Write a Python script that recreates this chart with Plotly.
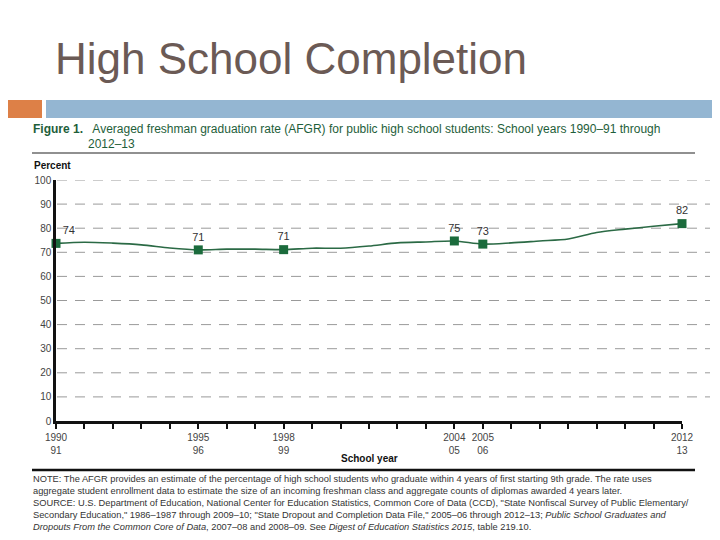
import plotly.graph_objects as go

# ---- data ----
years = list(range(1990, 2013))
afgr = [73.7, 74.2, 73.8, 73.1, 71.8, 71.0, 71.3, 71.3, 71.1, 71.7, 71.7,
        72.6, 73.9, 74.3, 74.7, 73.4, 73.9, 74.7, 75.5, 78.2, 79.6, 80.8, 81.9]
marked_years = [1990, 1995, 1998, 2004, 2005, 2012]
marked_labels = ["74", "71", "71", "75", "73", "82"]
tick_text = {1990: "1990<br>91", 1995: "1995<br>96", 1998: "1998<br>99",
             2004: "2004<br>05", 2005: "2005<br>06", 2012: "2012<br>13"}
y_ticks = list(range(0, 101, 10))

# page has an 8px body margin; work in page pixels and convert
OFF = 8
W, H = 712, 532
def px(x):
    return (x - OFF) / W
def py(y):
    return 1 - (y - OFF) / H

marked_vals = [afgr[years.index(y)] for y in marked_years]
label_pos = ["top right"] + ["top center"] * (len(marked_years) - 1)

fig = go.Figure()
fig.add_trace(go.Scatter(
    x=years, y=afgr, mode="lines",
    line=dict(color="#2b6a45", width=1.6, shape="spline", smoothing=0.8),
    hoverinfo="skip", showlegend=False, cliponaxis=False))
fig.add_trace(go.Scatter(
    x=marked_years, y=marked_vals, mode="markers+text",
    marker=dict(symbol="square", size=9, color="#1b6b3c"),
    text=marked_labels, textposition=label_pos,
    textfont=dict(family="Liberation Sans, Arial", size=11, color="#333333"),
    showlegend=False, cliponaxis=False))

shapes = []
# header bars
shapes.append(dict(type="rect", xref="paper", yref="paper",
                   x0=0, x1=px(42), y0=py(118), y1=py(100),
                   fillcolor="#dd8047", line=dict(width=0), layer="below"))
shapes.append(dict(type="rect", xref="paper", yref="paper",
                   x0=px(46), x1=1, y0=py(118), y1=py(100),
                   fillcolor="#94b6d2", line=dict(width=0), layer="below"))
# rules
shapes.append(dict(type="line", xref="paper", yref="paper",
                   x0=px(32), x1=px(695), y0=py(153), y1=py(153),
                   line=dict(color="#222222", width=1.2)))
shapes.append(dict(type="line", xref="paper", yref="paper",
                   x0=px(32), x1=px(695), y0=py(470), y1=py(470),
                   line=dict(color="#111111", width=2.5)))
# gridlines
for v in y_ticks[1:]:
    shapes.append(dict(type="line", xref="paper", yref="y",
                       x0=px(57), x1=px(710), y0=v, y1=v,
                       line=dict(color="#9a9a9a", width=1, dash="10px,8px"),
                       layer="below"))

annotations = []
annotations.append(dict(text="High School Completion", xref="paper", yref="paper",
                        x=px(53), y=py(58), xanchor="left", yanchor="middle",
                        showarrow=False,
                        font=dict(family="Liberation Sans, Arial", size=44, color="#6b5a55")))
annotations.append(dict(
    text="<b>Figure 1.</b>   Averaged freshman graduation rate (AFGR) for public high school students: School years 1990–91 through",
    xref="paper", yref="paper", x=px(31), y=py(129), xanchor="left", yanchor="middle",
    showarrow=False, font=dict(family="Liberation Sans, Arial", size=12, color="#1e5e3a")))
annotations.append(dict(
    text="2012–13", xref="paper", yref="paper", x=px(86), y=py(143.5),
    xanchor="left", yanchor="middle", showarrow=False,
    font=dict(family="Liberation Sans, Arial", size=12, color="#1e5e3a")))
annotations.append(dict(text="<b>Percent</b>", xref="paper", yref="paper",
                        x=px(32), y=py(165), xanchor="left", yanchor="middle",
                        showarrow=False,
                        font=dict(family="Liberation Sans, Arial", size=10, color="#111111")))
annotations.append(dict(text="<b>School year</b>", xref="paper", yref="paper",
                        x=px(369), y=py(458), xanchor="center", yanchor="middle",
                        showarrow=False,
                        font=dict(family="Liberation Sans, Arial", size=10, color="#111111")))

notes = [
    "NOTE: The AFGR provides an estimate of the percentage of high school students who graduate within 4 years of first starting 9th grade. The rate uses",
    "aggregate student enrollment data to estimate the size of an incoming freshman class and aggregate counts of diplomas awarded 4 years later.",
    "SOURCE: U.S. Department of Education, National Center for Education Statistics, Common Core of Data (CCD), \"State Nonfiscal Survey of Public Elementary/",
    "Secondary Education,\" 1986–1987 through 2009–10; \"State Dropout and Completion Data File,\" 2005–06 through 2012–13; <i>Public School Graduates and</i>",
    "<i>Dropouts From the Common Core of Data</i>, 2007–08 and 2008–09. See <i>Digest of Education Statistics 2015</i>, table 219.10.",
]
for i, line in enumerate(notes):
    annotations.append(dict(text=line, xref="paper", yref="paper",
                            x=px(31), y=py(479 + i * 12), xanchor="left", yanchor="middle",
                            showarrow=False,
                            font=dict(family="Liberation Sans, Arial",
                                      size=9.3, color="#333333")))

fig.update_layout(
    template="none",
    width=W, height=H,
    margin=dict(l=0, r=0, t=0, b=0, pad=0, autoexpand=False),
    paper_bgcolor="white", plot_bgcolor="white",
    shapes=shapes, annotations=annotations,
    xaxis=dict(domain=[px(56), px(682)], range=[1990, 2012], automargin=False,
               tickvals=years, ticktext=[tick_text.get(y, "") for y in years],
               ticks="outside", ticklen=5, tickwidth=1.5, tickcolor="#111111",
               showline=True, linecolor="#111111", linewidth=2.5,
               showgrid=False, zeroline=False,
               tickfont=dict(family="Liberation Sans, Arial", size=10, color="#444444")),
    yaxis=dict(domain=[py(421), py(180)], range=[0, 100], automargin=False,
               tickvals=y_ticks, ticks="", showgrid=False, zeroline=False,
               showline=True, linecolor="#111111", linewidth=2.5,
               tickfont=dict(family="Liberation Sans, Arial", size=10, color="#444444")),
)

fig.write_html("out.html")
